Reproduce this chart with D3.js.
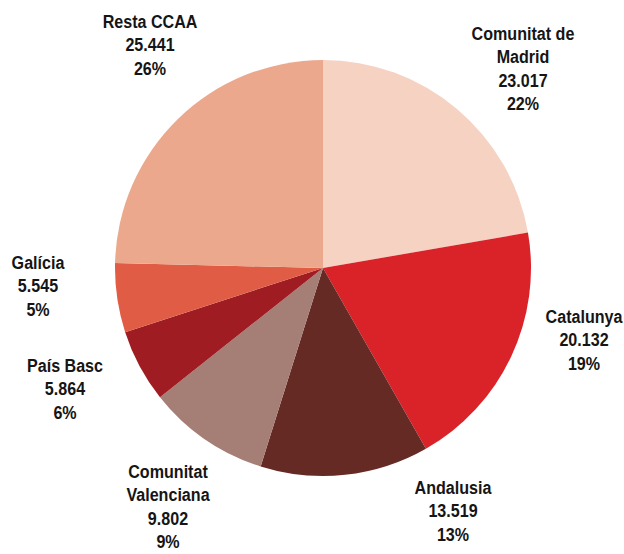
<!DOCTYPE html>
<html>
<head>
<meta charset="utf-8">
<script src="https://cdn.jsdelivr.net/npm/d3@7"></script>
<style>
  html, body { margin: 0; padding: 0; background: #fff; }
  svg text { font-family: "Liberation Sans", Arial, sans-serif; font-weight: bold; fill: #151515; }
</style>
</head>
<body>
<svg id="chart" width="624" height="554"></svg>
<script>
// Regions, in drawing order (clockwise from 12 o'clock)
const regions = [
  ["Comunitat de", "Madrid"],
  ["Catalunya"],
  ["Andalusia"],
  ["Comunitat", "Valenciana"],
  ["País Basc"],
  ["Galícia"],
  ["Resta CCAA"]
];
const values = [23017, 20132, 13519, 9802, 5864, 5545, 25441];
const valueLabels = ["23.017", "20.132", "13.519", "9.802", "5.864", "5.545", "25.441"];
const percentLabels = ["22%", "19%", "13%", "9%", "6%", "5%", "26%"];
const colors = ["#f6d2c3", "#da2229", "#662a24", "#a57e75", "#9e1c22", "#e05c45", "#eba88c"];

// Label anchor points (centre of first line's baseline)
const labelPos = [
  [523, 40], [584, 323], [453, 494], [168, 478], [65, 372], [38, 269], [150, 28]
];

const svg = d3.select("#chart");
const cx = 323, cy = 268, radius = 208;

const pie = d3.pie().sort(null).value(d => d)(values);
const arc = d3.arc().innerRadius(0).outerRadius(radius);

svg.append("g")
  .attr("transform", `translate(${cx},${cy})`)
  .selectAll("path")
  .data(pie)
  .join("path")
  .attr("d", arc)
  .attr("fill", (d, i) => colors[i]);

// Condensed look: squeeze the bold sans horizontally
const lineH = 23.5;
const labels = svg.append("g")
  .selectAll("g")
  .data(regions)
  .join("g")
  .attr("transform", (d, i) => `translate(${labelPos[i][0]},${labelPos[i][1]}) scale(0.87,1)`);

labels.each(function (name, i) {
  const t = d3.select(this).append("text")
    .attr("text-anchor", "middle")
    .attr("font-size", 18.5);
  const lines = [...name, valueLabels[i], percentLabels[i]];
  lines.forEach((s, k) => {
    t.append("tspan")
      .attr("x", 0)
      .attr("y", k * lineH)
      .text(s);
  });
});
</script>
</body>
</html>
